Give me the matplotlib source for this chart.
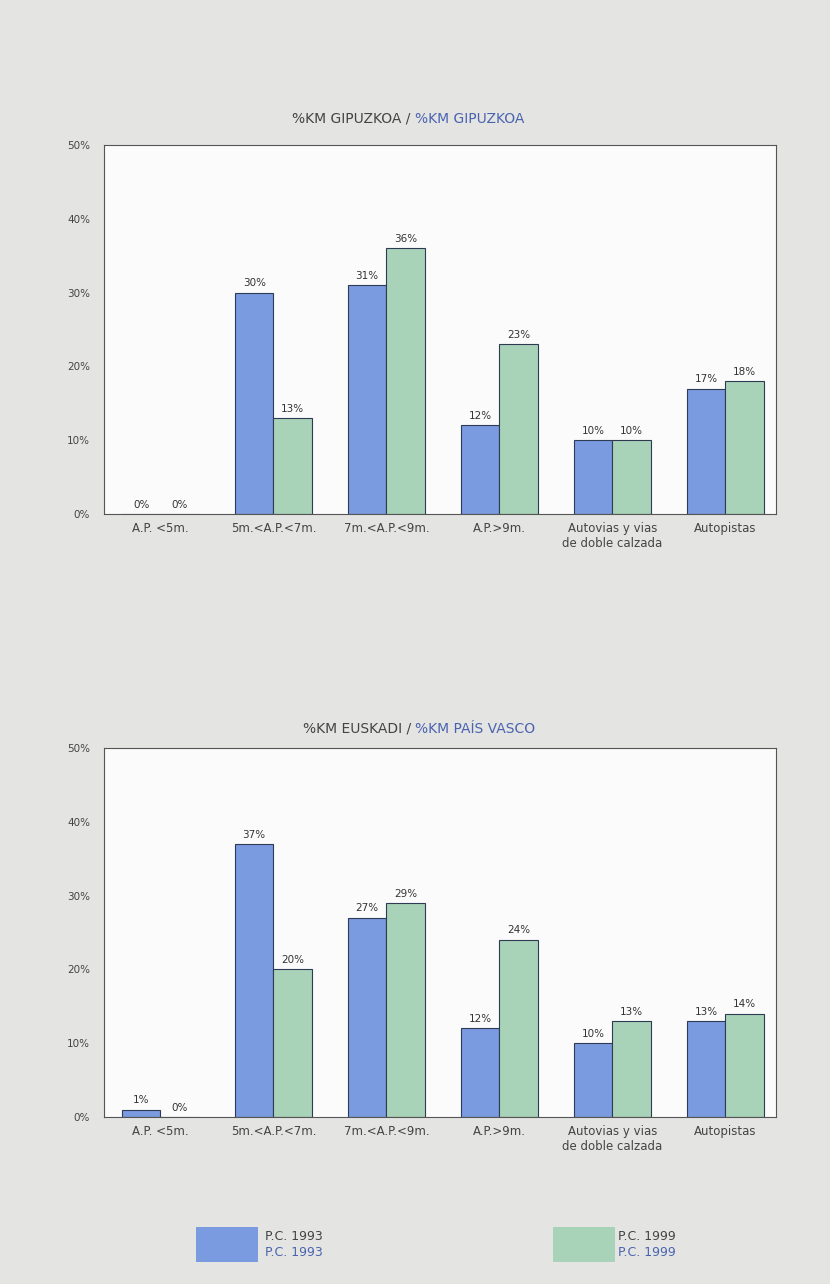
import matplotlib.pyplot as plt
import numpy as np
from matplotlib.patches import Rectangle

# ==================== 数据 ====================
CATEGORIES = ["A.P. <5m.", "5m.<A.P.<7m.", "7m.<A.P.<9m.", "A.P.>9m.",
              "Autovias y vias\nde doble calzada", "Autopistas"]
GIP_1993 = [0, 30, 31, 12, 10, 17]
GIP_1999 = [0, 13, 36, 23, 10, 18]
EUS_1993 = [1, 37, 27, 12, 10, 13]
EUS_1999 = [0, 20, 29, 24, 13, 14]
YTICKS = [0, 10, 20, 30, 40, 50]

BLUE = "#7b9be0"
GREEN = "#a9d3b8"
BG = "#e4e4e2"
TITLE_BLUE = "#4a63b0"

W, H = 830, 1284
fig = plt.figure(figsize=(W / 100, H / 100), dpi=100, facecolor=BG)


def draw_panel(rect, v93, v99, title_a, title_b, title_y):
    ax = fig.add_axes(rect)
    ax.set_facecolor("#fbfbfb")
    x = np.arange(len(CATEGORIES))
    bw = 0.34
    ax.bar(x - bw / 2, v93, bw, color=BLUE, edgecolor="#2f3a55", linewidth=0.8)
    ax.bar(x + bw / 2, v99, bw, color=GREEN, edgecolor="#2f3a55", linewidth=0.8)
    for xi, a, b in zip(x, v93, v99):
        ax.text(xi - bw / 2, a + 0.6, f"{a}%", ha="center", va="bottom",
                fontsize=7.5, color="#333333")
        ax.text(xi + bw / 2, b + 0.6, f"{b}%", ha="center", va="bottom",
                fontsize=7.5, color="#333333")
    ax.set_xlim(-0.5, 5.45)
    ax.set_ylim(0, 50)
    ax.set_yticks(YTICKS)
    ax.set_yticklabels([f"{t}%" for t in YTICKS])
    ax.set_xticks(x)
    ax.set_xticklabels(CATEGORIES, fontsize=8.5)
    ax.tick_params(axis="both", length=0, colors="#444444")
    ax.tick_params(axis="y", labelsize=7.5, pad=10)
    ax.tick_params(axis="x", pad=6)
    for s in ax.spines.values():
        s.set_color("#555555")
        s.set_linewidth(0.8)
    # título en dos colores
    fig.text(0.5, title_y, title_a, ha="right", va="center",
             fontsize=10, color="#444444")
    fig.text(0.5, title_y, title_b, ha="left", va="center",
             fontsize=10, color=TITLE_BLUE)
    return ax


ax_left = 104 / W
ax_w = (776 - 104) / W
ax_h = (514 - 145) / H
draw_panel([ax_left, 1 - 514 / H, ax_w, ax_h], GIP_1993, GIP_1999,
           "%KM GIPUZKOA / ", "%KM GIPUZKOA", 1 - 119 / H)
draw_panel([ax_left, 1 - 1117 / H, ax_w, ax_h], EUS_1993, EUS_1999,
           "%KM EUSKADI / ", "%KM PAÍS VASCO", 1 - 729 / H)

# leyenda
for px, col, tx, lab in [(196, BLUE, 265, "P.C. 1993"), (553, GREEN, 618, "P.C. 1999")]:
    fig.patches.append(Rectangle((px / W, 1 - 1262 / H), 62 / W, 35 / H,
                                 transform=fig.transFigure, facecolor=col,
                                 edgecolor="none"))
    fig.text(tx / W, 1 - 1236 / H, lab, fontsize=9, color="#444444", va="center")
    fig.text(tx / W, 1 - 1252 / H, lab, fontsize=9, color=TITLE_BLUE, va="center")

fig.savefig("out.png", dpi=100, facecolor=BG)
